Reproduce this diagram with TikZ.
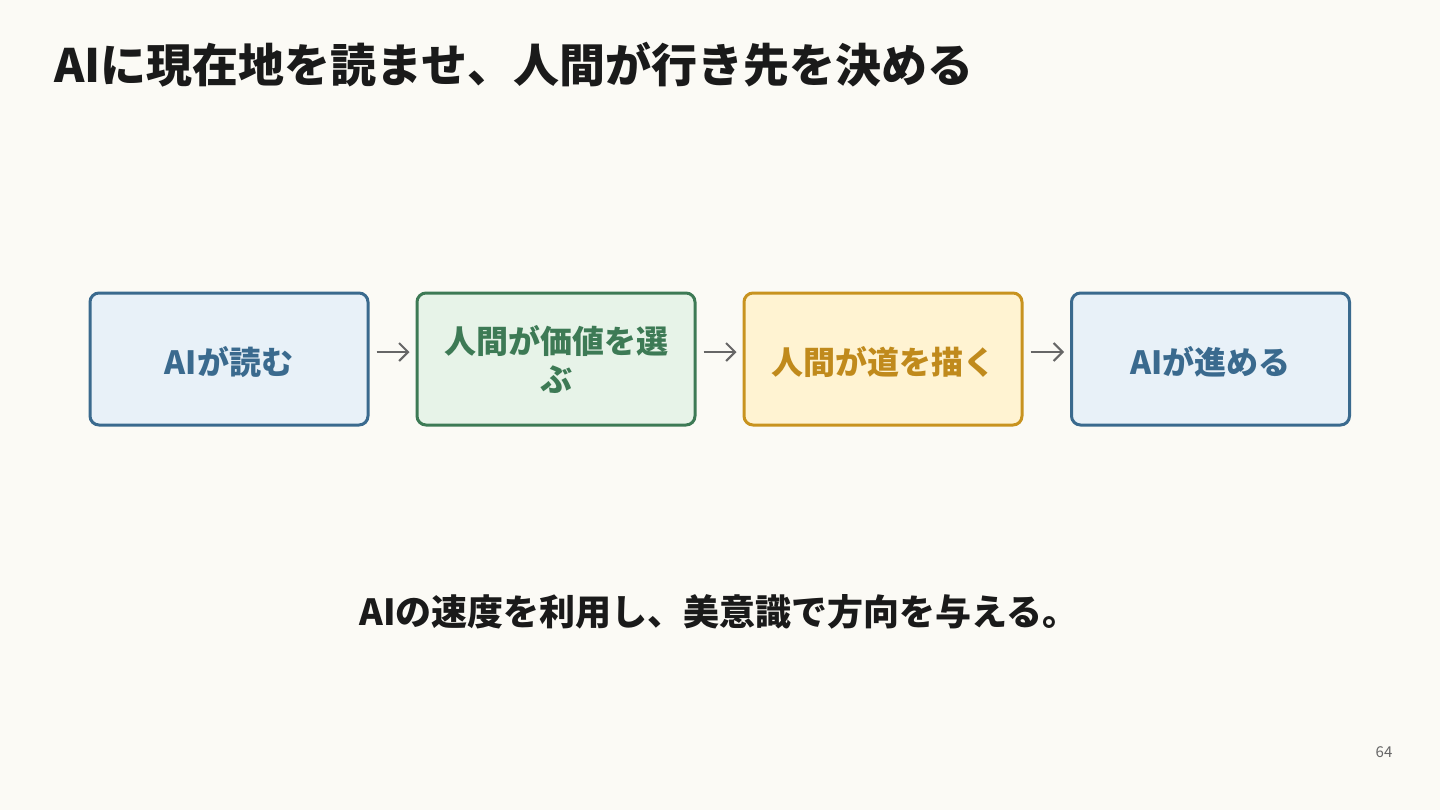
\documentclass[tikz,border=0pt]{standalone}
\usepackage{fontspec}
\setmainfont{Noto Sans CJK JP}
\usetikzlibrary{arrows.meta}
\definecolor{bg}{HTML}{FBFAF5}
\definecolor{blueline}{HTML}{3A6A8E}
\definecolor{bluefill}{HTML}{E8F1F8}
\definecolor{greenline}{HTML}{3D7A55}
\definecolor{greenfill}{HTML}{E7F3E8}
\definecolor{goldline}{HTML}{C8931F}
\definecolor{goldfill}{HTML}{FFF3D2}
\definecolor{goldtext}{HTML}{C08A1C}
\definecolor{titletext}{HTML}{1A1A1A}
\definecolor{arrowgray}{HTML}{666666}
\tikzset{
  stepbox/.style={draw, line width=1.5pt, rounded corners=4.5pt, minimum width=139pt, minimum height=66pt, align=center, font=\fontsize{16}{19}\selectfont\bfseries, inner sep=0pt, execute at begin node={\rule{0pt}{17pt}}},
  bluebox/.style={stepbox, draw=blueline, fill=bluefill, text=blueline},
  greenbox/.style={stepbox, draw=greenline, fill=greenfill, text=greenline},
  goldbox/.style={stepbox, draw=goldline, fill=goldfill, text=goldtext},
  flow/.style={draw=arrowgray, line width=1pt, -{Straight Barb[length=4.5pt,width=9pt]}, shorten <=3.5pt, shorten >=3pt},
}
\begin{document}
\begin{tikzpicture}[x=0.5pt,y=-0.5pt]
\fill[bg] (0,0) rectangle (1440,810);
\useasboundingbox (0,0) rectangle (1440,810);
\node[anchor=west, inner sep=0pt, text=titletext, font=\fontsize{23}{27}\selectfont\bfseries] (title) at (54,65) {AIに現在地を読ませ、人間が行き先を決める};
\node[bluebox] (b1) at (229,359) {AIが読む};
\node[greenbox] (b2) at (556,359) {人間が価値を選\\ぶ};
\node[goldbox] (b3) at (883,359) {人間が道を描く};
\node[bluebox] (b4) at (1210.5,359) {AIが進める};
\draw[flow] ([yshift=3.5pt]b1.east) -- ([yshift=3.5pt]b2.west);
\draw[flow] ([yshift=3.5pt]b2.east) -- ([yshift=3.5pt]b3.west);
\draw[flow] ([yshift=3.5pt]b3.east) -- ([yshift=3.5pt]b4.west);
\node[inner sep=0pt, text=titletext, font=\fontsize{18}{22}\selectfont\bfseries] (msg) at (719,612) {AIの速度を利用し、美意識で方向を与える。};
\node[inner sep=0pt, text=arrowgray, font=\fontsize{7.5}{9}\selectfont] (page) at (1384,752) {64};
\end{tikzpicture}
\end{document}
